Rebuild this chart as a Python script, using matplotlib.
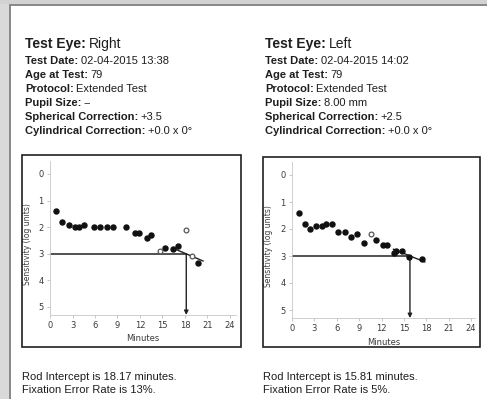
import matplotlib
matplotlib.use("Agg")
import matplotlib.pyplot as plt
from matplotlib.patches import Rectangle

# Right eye (left panel)
r_min = [0.8, 1.6, 2.5, 3.3, 3.9, 4.6, 5.9, 6.7, 7.6, 8.4, 10.1, 11.3, 11.8, 12.9, 13.5, 15.4, 16.4, 17.1, 19.7]
r_sens = [1.4, 1.8, 1.9, 2.0, 2.0, 1.9, 2.0, 2.0, 2.0, 2.0, 2.0, 2.2, 2.2, 2.4, 2.3, 2.8, 2.83, 2.7, 3.33]
r_open_min = [14.7, 18.1, 18.9]
r_open_sens = [2.9, 2.1, 3.1]
r_fit_x = [16.4, 20.4]
r_fit_y = [2.79, 3.27]
r_intercept = 18.17

# Left eye (right panel)
l_min = [0.9, 1.7, 2.4, 3.2, 4.0, 4.6, 5.3, 6.1, 7.1, 7.9, 8.7, 9.6, 11.3, 12.2, 12.8, 13.7, 13.9, 14.8, 15.7, 17.4]
l_sens = [1.4, 1.8, 2.0, 1.9, 1.9, 1.8, 1.8, 2.1, 2.1, 2.3, 2.2, 2.5, 2.4, 2.6, 2.6, 2.9, 2.8, 2.8, 3.05, 3.1]
l_open_min = [10.6]
l_open_sens = [2.2]
l_fit_x = [13.6, 17.8]
l_fit_y = [2.75, 3.22]
l_intercept = 15.81

x_ticks = [0, 3, 6, 9, 12, 15, 18, 21, 24]
y_ticks = [0, 1, 2, 3, 4, 5]

W, H = 487, 399
fig = plt.figure(figsize=(W / 100, H / 100), dpi=100)
fig.patch.set_facecolor("white")
renderer = fig.canvas.get_renderer()
FONT = "Liberation Sans"
TXT = "#1e1e1e"


def fx(px):
    return px / W


def fy(py):
    return 1 - py / H


def page_rect(x0, y0, x1, y1, color):
    # rectangle given in pixel coords (y measured from the top)
    fig.add_artist(Rectangle((fx(x0), fy(y1)), (x1 - x0) / W, (y1 - y0) / H,
                             transform=fig.transFigure, color=color, lw=0))


# scanned page edges
page_rect(0, 0, 9, H, "#d9d9d9")
page_rect(0, 0, W, 4, "#d2d2d2")
page_rect(9, 4, 10.5, H, "#8a8a8a")
page_rect(9, 4, W, 5.5, "#8a8a8a")


def label_value(x, y, label, value, size):
    t = fig.text(fx(x), fy(y), label, fontsize=size, fontweight="bold", family=FONT,
                 color=TXT, va="baseline", ha="left")
    bb = t.get_window_extent(renderer)
    fig.text(fx(bb.x1 + size * 0.3), fy(y), value, fontsize=size, family=FONT,
             color=TXT, va="baseline", ha="left")


def header(x, eye, date, pupil, sph):
    label_value(x, 48, "Test Eye:", eye, 10)
    rows = [("Test Date:", date), ("Age at Test:", "79"), ("Protocol:", "Extended Test"),
            ("Pupil Size:", pupil), ("Spherical Correction:", sph),
            ("Cylindrical Correction:", "+0.0 x 0\u00b0")]
    for i, (lab, val) in enumerate(rows):
        label_value(x, 64.5 + 14 * i, lab, val, 8)


header(25, "Right", "02-04-2015 13:38", "--", "+3.5")
header(265, "Left", "02-04-2015 14:02", "8.00 mm", "+2.5")


def panel(box, x0, px_per_min, y0_px, px_per_unit, xmax,
          mins, sens, omins, osens, fitx, fity, icpt, ylab_x):
    # outer frame
    bx0, by0, bx1, by1 = box
    fig.add_artist(Rectangle((fx(bx0), fy(by1)), fx(bx1 - bx0), (by1 - by0) / H,
                             transform=fig.transFigure, fill=False, ec="#202020", lw=1.2))
    ytop, ybot = -0.5, 5.3
    left = fx(x0)
    width = xmax * px_per_min / W
    top_px = y0_px + ytop * px_per_unit
    bot_px = y0_px + ybot * px_per_unit
    ax = fig.add_axes([left, fy(bot_px), width, (bot_px - top_px) / H])
    ax.set_xlim(0, xmax)
    ax.set_ylim(ybot, ytop)
    for s in ["top", "right"]:
        ax.spines[s].set_visible(False)
    for s in ["left", "bottom"]:
        ax.spines[s].set_color("#c8c8c8")
        ax.spines[s].set_linewidth(0.6)
    ax.set_xticks(x_ticks)
    ax.set_yticks(y_ticks)
    ax.tick_params(length=2, width=0.5, color="#b0b0b0", labelsize=6,
                   labelcolor="#3a3a3a", pad=2.5)
    ax.set_xlabel("Minutes", fontsize=6, color="#3a3a3a", labelpad=3)
    ax.set_ylabel("Sensitivity (log units)", fontsize=5.5, color="#3a3a3a")
    ax.yaxis.set_label_coords((ylab_x - x0) / (xmax * px_per_min), 0.46)

    ax.plot([0, icpt], [3, 3], color="#222222", lw=1.1, zorder=2)
    ax.annotate("", xy=(icpt, ybot), xytext=(icpt, 3),
                arrowprops=dict(arrowstyle="-|>", color="#222222", lw=1.0,
                                mutation_scale=6, shrinkA=0, shrinkB=0), zorder=2)
    ax.plot(fitx, fity, color="#222222", lw=1.0, zorder=3)
    ax.plot(mins, sens, "o", color="#111111", ms=3.6, zorder=4)
    ax.plot(omins, osens, "o", mfc="white", mec="#555555", mew=0.9, ms=3.4, zorder=4)
    return ax


panel((22, 155, 241, 347), 50, 7.5, 174, 26.6, 24.8,
      r_min, r_sens, r_open_min, r_open_sens, r_fit_x, r_fit_y, r_intercept, 32)
panel((263, 157, 480, 347), 292, 7.46, 175, 27.0, 24.5,
      l_min, l_sens, l_open_min, l_open_sens, l_fit_x, l_fit_y, l_intercept, 273)

for x, icpt, rate in [(22, r_intercept, "13%"), (263, l_intercept, "5%")]:
    fig.text(fx(x), fy(380.5), f"Rod Intercept is {icpt:.2f} minutes.", fontsize=8,
             family=FONT, color=TXT, va="baseline")
    fig.text(fx(x), fy(393), f"Fixation Error Rate is {rate}.", fontsize=8,
             family=FONT, color=TXT, va="baseline")

fig.savefig("out.png", dpi=100)
